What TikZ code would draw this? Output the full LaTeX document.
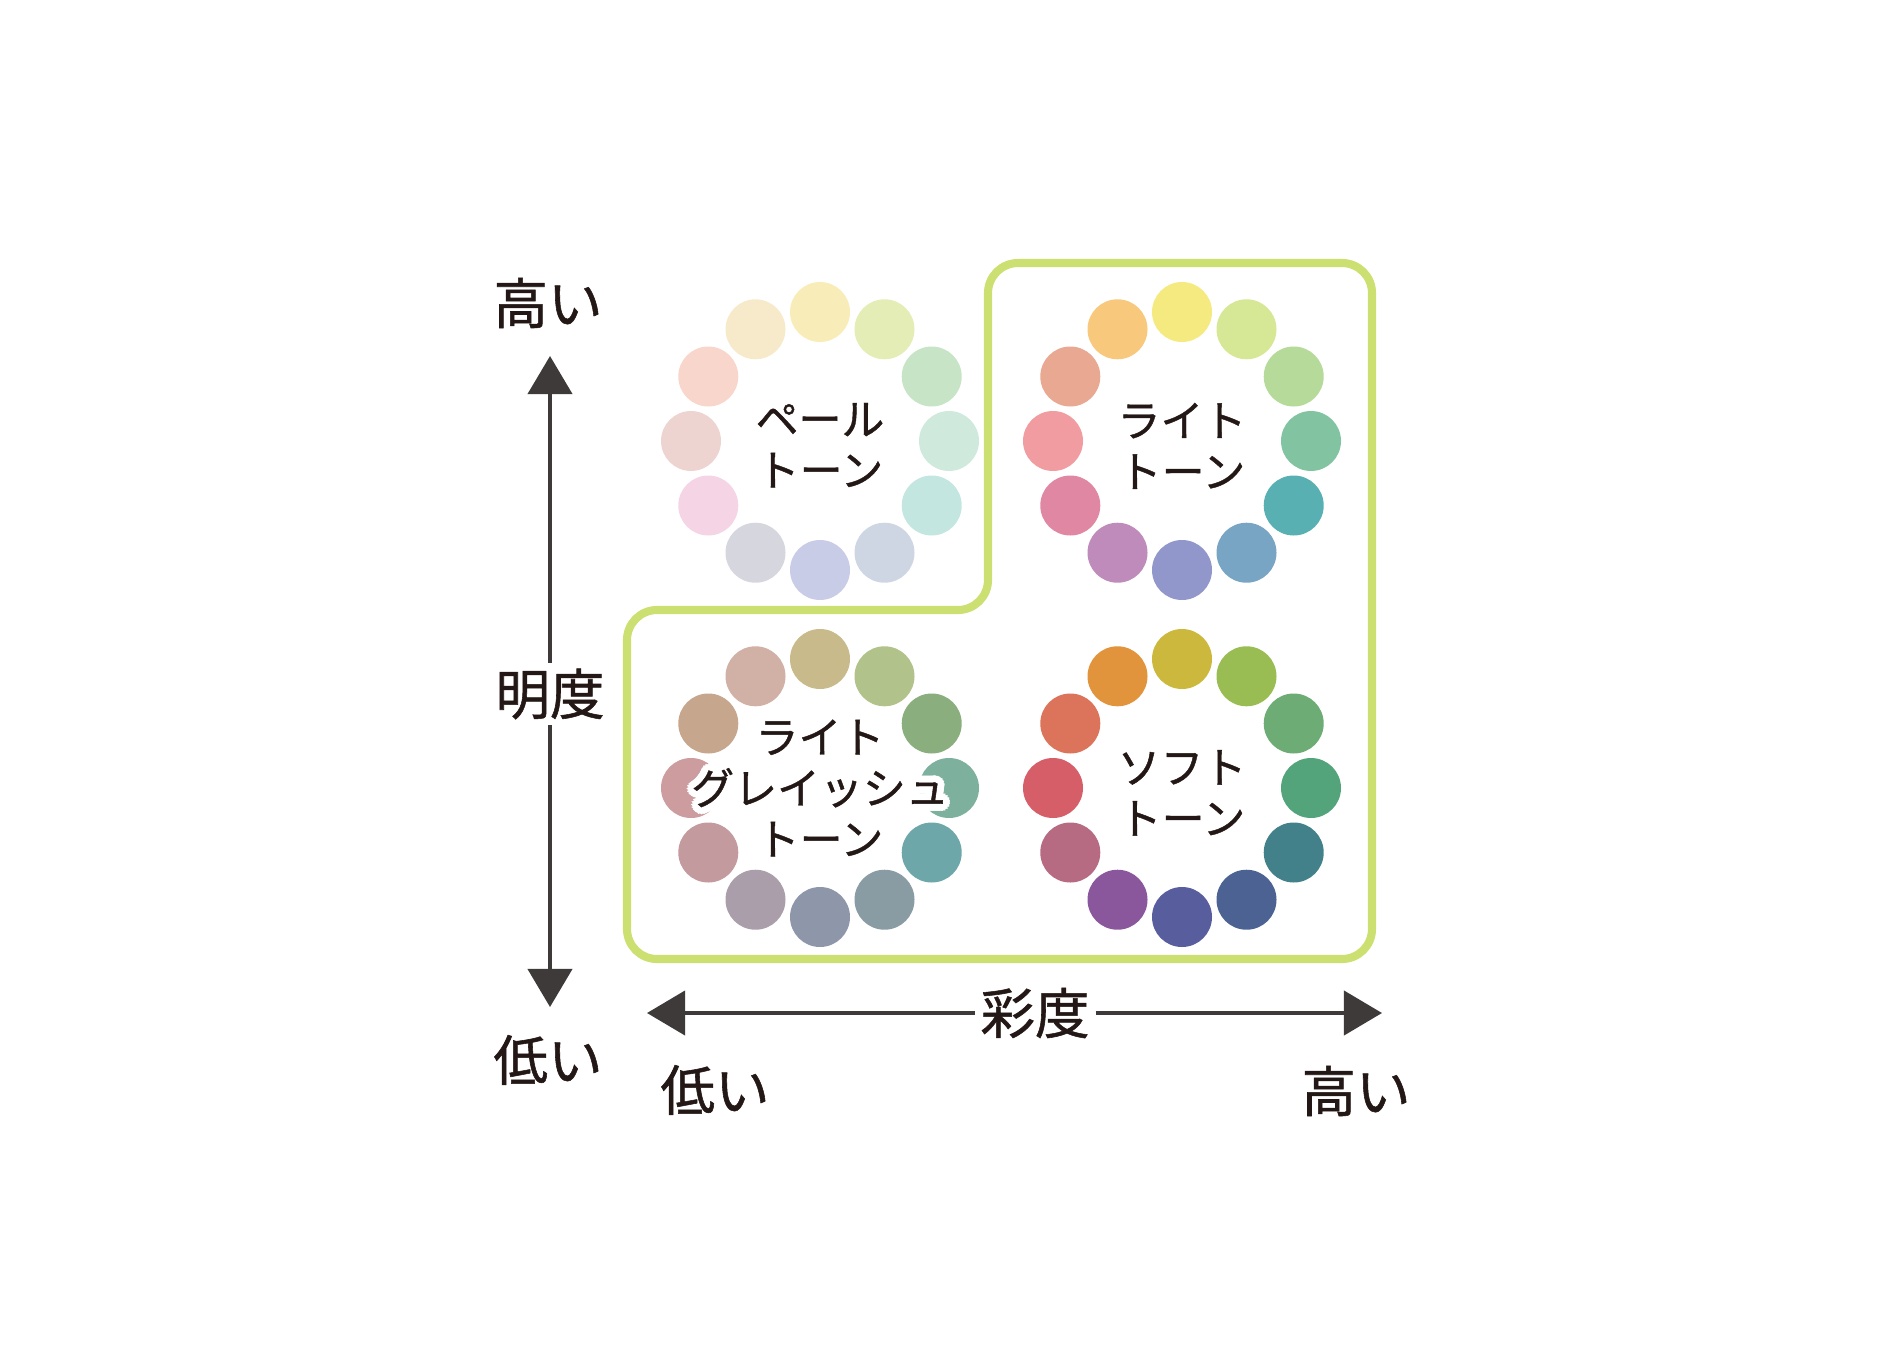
\documentclass[tikz,border=0pt]{standalone}
\usepackage{fontspec}
\setmainfont{Noto Sans CJK JP}[FakeBold=1]
\usetikzlibrary{arrows.meta,positioning}

\definecolor{ink}{HTML}{231815}
\definecolor{axisgray}{HTML}{3E3A39}
\definecolor{framegreen}{HTML}{CBE070}

\begin{document}
\begin{tikzpicture}[
        x=0.01cm, y=0.01cm,
        >={Triangle[length=0.38cm, width=0.44cm]},
        axis/.style={draw=axisgray, line width=1.15pt},
        axislabel/.style={text=ink, font=\fontsize{15.5}{18}\selectfont, inner sep=1.5pt},
        tonetext/.style={text=ink, align=center, font=\fontsize{12.2}{14.5}\selectfont},
        tonebox/.style={draw=framegreen, line width=2.3pt, rounded corners=0.3cm}
    ]
        \useasboundingbox (0,0) rectangle (1894,1350);

        % Frame round the light, grayish and soft tones
        \draw[tonebox] (1000,391) -- (627,391) -- (627,740) -- (988,740) -- (988,1087)
            -- (1372,1087) -- (1372,391) -- cycle;

        % Ring centers
        \coordinate (pale) at (820,909);
        \coordinate (light) at (1182,909);
        \coordinate (grayish) at (820,562);
        \coordinate (soft) at (1182,562);

        % Colour dots, clockwise from the top
        \foreach \c [count=\i from 0] in {F8EDB9,E3EDB5,C7E5C6,CFE9DC,C4E6E0,CFD6E3,C9CCE6,D6D6DE,F5D5E5,EED4D0,F9D6CB,F7EACA}
        {
            \definecolor{dot}{HTML}{\c}
            \fill[dot, shift={(pale)}] (90-30*\i:129) circle (30);
        }
        \foreach \c [count=\i from 0] in {F5EA80,D6E796,B6DA9A,82C4A2,59B0B3,79A5C4,9197CA,BE8BBB,E088A3,F09CA0,E8A891,F8C87C}
        {
            \definecolor{dot}{HTML}{\c}
            \fill[dot, shift={(light)}] (90-30*\i:129) circle (30);
        }
        \foreach \c [count=\i from 0] in {C8BA8A,B1C28A,8AAE7E,7EB09E,6EA7AA,899BA3,8E96A9,AA9EAB,C39A9E,CC9C9F,C6A68D,D1B1A6}
        {
            \definecolor{dot}{HTML}{\c}
            \fill[dot, shift={(grayish)}] (90-30*\i:129) circle (30);
        }
        \foreach \c [count=\i from 0] in {CBB83D,99BD52,6DAC74,53A47B,43818A,4B6293,585D9E,8A579D,B66B83,D55E69,DB745A,E1943C}
        {
            \definecolor{dot}{HTML}{\c}
            \fill[dot, shift={(soft)}] (90-30*\i:129) circle (30);
        }

        % Tone names
        \node[tonetext] (paletext) at ([yshift=-1.2pt]pale) {ペール\\トーン};
        \node[tonetext] (lighttext) at ([yshift=-1.4pt]light) {ライト\\トーン};
        \foreach \a [count=\k] in {0,22.5,...,337.5}
            \node[tonetext, text=white, shift={(\a:7)}] (halo\k) at (grayish) {ライト\\グレイッシュ\\トーン};
        \node[tonetext] (grayishtext) at (grayish) {ライト\\グレイッシュ\\トーン};
        \node[tonetext] (softtext) at ([yshift=-1.4pt]soft) {ソフト\\トーン};

        % Brightness axis
        \node[axislabel] (meido) at (550,656) {明度};
        \coordinate (vtop) at (550,994);
        \coordinate (vbot) at (550,343);
        \draw[axis, ->] (meido) -- (vtop);
        \draw[axis, ->] (meido) -- (vbot);
        \node[axislabel] (vhigh) at (548,1047) {高い};
        \node[axislabel] (vlow) at (548,290) {低い};

        % Saturation axis
        \node[axislabel] (saido) at (1035,337) {彩度};
        \coordinate (hleft) at (647,337);
        \coordinate (hright) at (1382,337);
        \draw[axis, ->] (saido) -- (hleft);
        \draw[axis, ->] (saido) -- (hright);
        \node[axislabel] (hlow) at (715,260) {低い};
        \node[axislabel] (hhigh) at (1356,259) {高い};

    \end{tikzpicture}
\end{document}
